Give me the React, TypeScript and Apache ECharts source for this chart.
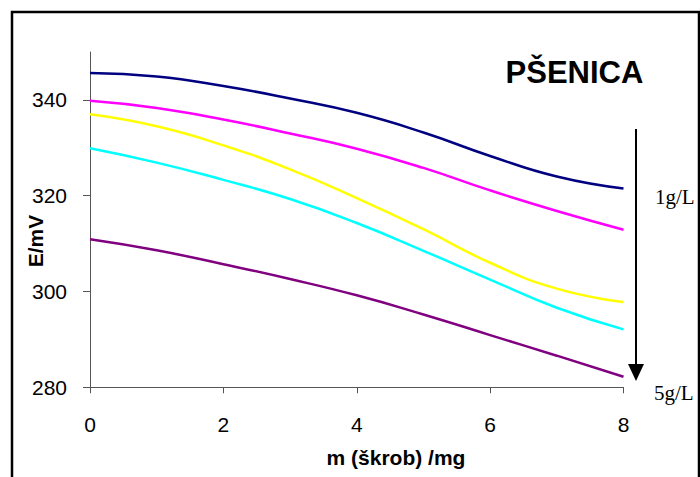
import React, { useEffect, useRef } from "react";
import * as echarts from "echarts";

const xValues = [0, 1, 2, 3, 4, 5, 6, 7, 8];
const navySeries = [345.6, 344.9, 342.9, 340.3, 337.3, 333.2, 328.3, 324.0, 321.5];
const magentaSeries = [339.8, 338.3, 335.9, 333.0, 329.8, 325.8, 321.1, 316.8, 312.9];
const yellowSeries = [337.0, 334.5, 330.5, 325.5, 319.5, 313.0, 306.0, 300.6, 297.8];
const cyanSeries = [329.9, 326.9, 323.3, 319.3, 314.3, 308.5, 302.5, 296.6, 292.1];
const purpleSeries = [310.9, 308.6, 305.7, 302.6, 299.2, 295.2, 290.9, 286.6, 282.2];
const yTicks = [280, 300, 320, 340];
const xTicks = [0, 2, 4, 6, 8];

const seriesList = [
  { name: "1g/L", values: navySeries, color: "#000080" },
  { name: "2g/L", values: magentaSeries, color: "#FF00FF" },
  { name: "3g/L", values: yellowSeries, color: "#FFFF00" },
  { name: "4g/L", values: cyanSeries, color: "#00FFFF" },
  { name: "5g/L", values: purpleSeries, color: "#800080" },
];

const SANS = "'Liberation Sans', Arial, sans-serif";
const SERIF = "'Liberation Serif', 'Times New Roman', serif";

export default function App() {
  const ref = useRef<HTMLDivElement>(null);
  useEffect(() => {
    if (!ref.current) return;
    const chart = echarts.init(ref.current, null, { renderer: "svg" });
    chart.setOption({
      animation: false,
      backgroundColor: "#ffffff",
      grid: { left: 90, right: 76.5, top: 52, bottom: 89.7 },
      xAxis: {
        type: "value",
        min: 0,
        max: 8,
        interval: 2,
        splitLine: { show: false },
        axisLine: { show: true, lineStyle: { color: "#555555", width: 1 } },
        axisTick: { show: true, length: 6, lineStyle: { color: "#555555" }, customValues: xTicks },
        axisLabel: { color: "#000", fontSize: 21, fontFamily: SANS, margin: 27, customValues: xTicks },
      },
      yAxis: {
        type: "value",
        min: 280,
        max: 350,
        interval: 20,
        splitLine: { show: false },
        axisLine: { show: true, lineStyle: { color: "#555555", width: 1 } },
        axisTick: { show: true, length: 7, lineStyle: { color: "#555555" }, customValues: yTicks },
        axisLabel: { color: "#000", fontSize: 21, fontFamily: SANS, margin: 23, customValues: yTicks },
      },
      series: seriesList.map((s) => ({
        type: "line",
        name: s.name,
        data: xValues.map((x, i) => [x, s.values[i]]),
        smooth: 0.5,
        showSymbol: false,
        lineStyle: { color: s.color, width: 2.5 },
        itemStyle: { color: s.color },
      })),
      graphic: [
        {
          type: "rect",
          shape: { x: 12, y: 12, width: 687, height: 490 },
          style: { fill: "none", stroke: "#000", lineWidth: 2.5 },
          silent: true,
        },
        {
          type: "text",
          x: 574.5,
          y: 72,
          style: {
            text: "PŠENICA",
            font: `bold 31px ${SANS}`,
            fill: "#000",
            textAlign: "center",
            textVerticalAlign: "middle",
          },
        },
        {
          type: "text",
          x: 35,
          y: 241,
          rotation: Math.PI / 2,
          style: {
            text: "E/mV",
            font: `bold 21px ${SANS}`,
            fill: "#000",
            textAlign: "center",
            textVerticalAlign: "middle",
          },
        },
        {
          type: "text",
          x: 396,
          y: 457,
          style: {
            text: "m (škrob) /mg",
            font: `bold 21px ${SANS}`,
            fill: "#000",
            textAlign: "center",
            textVerticalAlign: "middle",
          },
        },
        {
          type: "line",
          shape: { x1: 636, y1: 129, x2: 636, y2: 368 },
          style: { stroke: "#000", lineWidth: 2 },
        },
        {
          type: "polygon",
          shape: { points: [[628, 364], [644, 364], [636, 381]] },
          style: { fill: "#000" },
        },
        {
          type: "text",
          x: 655,
          y: 197,
          style: {
            text: "1g/L",
            font: `21px ${SERIF}`,
            fill: "#000",
            textAlign: "left",
            textVerticalAlign: "middle",
          },
        },
        {
          type: "text",
          x: 654,
          y: 393,
          style: {
            text: "5g/L",
            font: `21px ${SERIF}`,
            fill: "#000",
            textAlign: "left",
            textVerticalAlign: "middle",
          },
        },
      ],
    });
    return () => chart.dispose();
  }, []);
  return (
    <div
      ref={ref}
      style={{ position: "absolute", left: 0, top: 0, width: 700, height: 477, background: "#fff" }}
    />
  );
}
